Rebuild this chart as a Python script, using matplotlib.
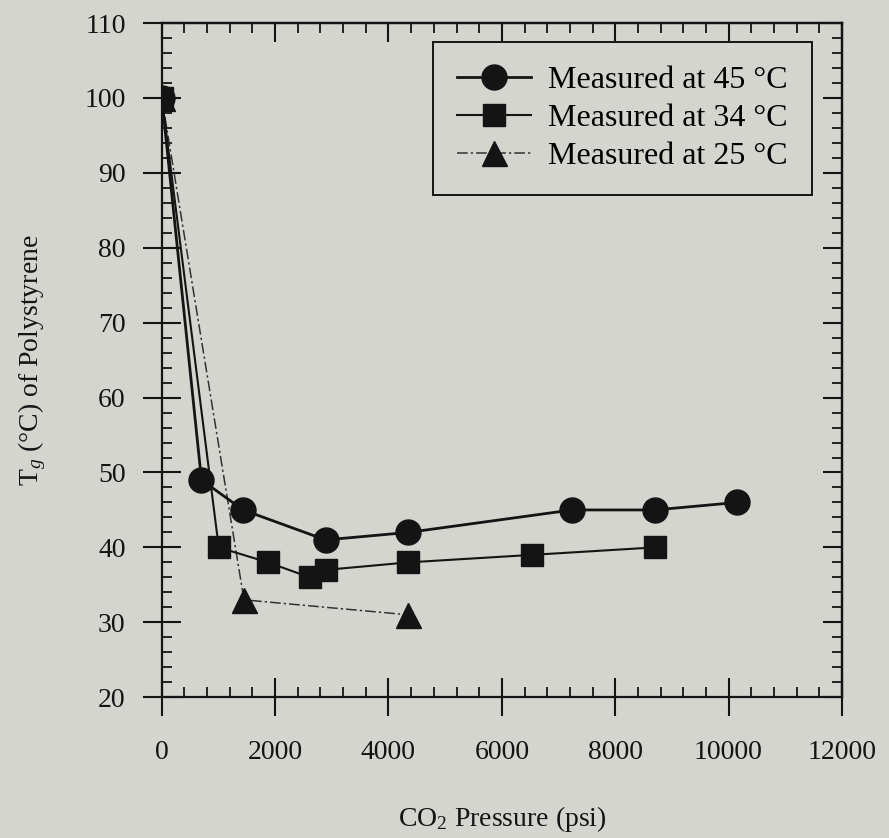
import matplotlib
matplotlib.use("Agg")
import matplotlib.pyplot as plt
from matplotlib.ticker import MultipleLocator

# CO2 pressure (psi) vs Tg (deg C) of polystyrene
p_45 = [0, 700, 1435, 2890, 4350, 7240, 8700, 10150]
tg_45 = [100, 49, 45, 41, 42, 45, 45, 46]

p_34 = [0, 1005, 1875, 2610, 2895, 4350, 6525, 8700]
tg_34 = [100, 40, 38, 36, 37, 38, 39, 40]

p_25 = [0, 1450, 4350]
tg_25 = [100, 33, 31]

labels = ["Measured at 45 \u00b0C", "Measured at 34 \u00b0C", "Measured at 25 \u00b0C"]

BG = "#d4d5cf"
INK = "#141414"

plt.rcParams["font.family"] = ["Liberation Serif", "DejaVu Serif"]
plt.rcParams["mathtext.fontset"] = "custom"
plt.rcParams["mathtext.rm"] = "Liberation Serif"
plt.rcParams["mathtext.it"] = "Liberation Serif:italic"

fig = plt.figure(figsize=(8.89, 8.38), dpi=100, facecolor=BG)
ax = fig.add_axes([0.182, 0.168, 0.765, 0.8045])
ax.set_facecolor(BG)

ax.plot(p_45, tg_45, "-", color=INK, lw=2.0, marker="o", ms=18, mfc=INK, mec=INK,
        label=labels[0], zorder=4)
ax.plot(p_34, tg_34, "-", color=INK, lw=1.5, marker="s", ms=16, mfc=INK, mec=INK,
        label=labels[1], zorder=3)
ax.plot(p_25, tg_25, linestyle=(0, (7, 2, 1.5, 2)), color="#333333", lw=1.1,
        marker="^", ms=18, mfc=INK, mec=INK, label=labels[2], zorder=2)

ax.set_xlim(0, 12000)
ax.set_ylim(20, 110)
ax.xaxis.set_major_locator(MultipleLocator(2000))
ax.xaxis.set_minor_locator(MultipleLocator(400))
ax.yaxis.set_major_locator(MultipleLocator(10))
ax.yaxis.set_minor_locator(MultipleLocator(2))

for s in ax.spines.values():
    s.set_linewidth(1.6)
    s.set_color(INK)

# lengths in points (1 pt = 1.39 px at dpi 100)
ax.tick_params(which="major", direction="inout", length=28, width=1.5, color=INK,
               top=False, right=False, labelsize=20, labelcolor=INK)
ax.tick_params(axis="x", which="major", pad=17)
ax.tick_params(axis="y", which="major", pad=12)
ax.tick_params(which="minor", direction="in", length=7, width=1.3, color=INK,
               top=True, right=True)

# top / right major ticks point inward only
top = ax.secondary_xaxis("top")
top.xaxis.set_major_locator(MultipleLocator(2000))
top.tick_params(direction="in", length=14, width=1.5, color=INK, labeltop=False)
top.spines["top"].set_linewidth(1.6)
right = ax.secondary_yaxis("right")
right.yaxis.set_major_locator(MultipleLocator(10))
right.tick_params(direction="in", length=14, width=1.5, color=INK, labelright=False)
right.spines["right"].set_linewidth(1.6)

ax.set_xlabel(r"CO$_2$ Pressure (psi)", fontsize=20, color=INK, labelpad=28)
ax.set_ylabel(r"T$_g$ ($\degree$C) of Polystyrene", fontsize=20, color=INK, labelpad=26)

leg = ax.legend(loc="upper right", bbox_to_anchor=(0.956, 0.972), borderaxespad=0,
                fontsize=23, frameon=True, fancybox=False, handlelength=2.3,
                handletextpad=0.55, labelspacing=0.27, borderpad=0.75)
leg.get_frame().set_edgecolor(INK)
leg.get_frame().set_facecolor(BG)
leg.get_frame().set_linewidth(1.4)
leg.get_frame().set_alpha(1)

fig.savefig("out.png", dpi=100, facecolor=BG)
